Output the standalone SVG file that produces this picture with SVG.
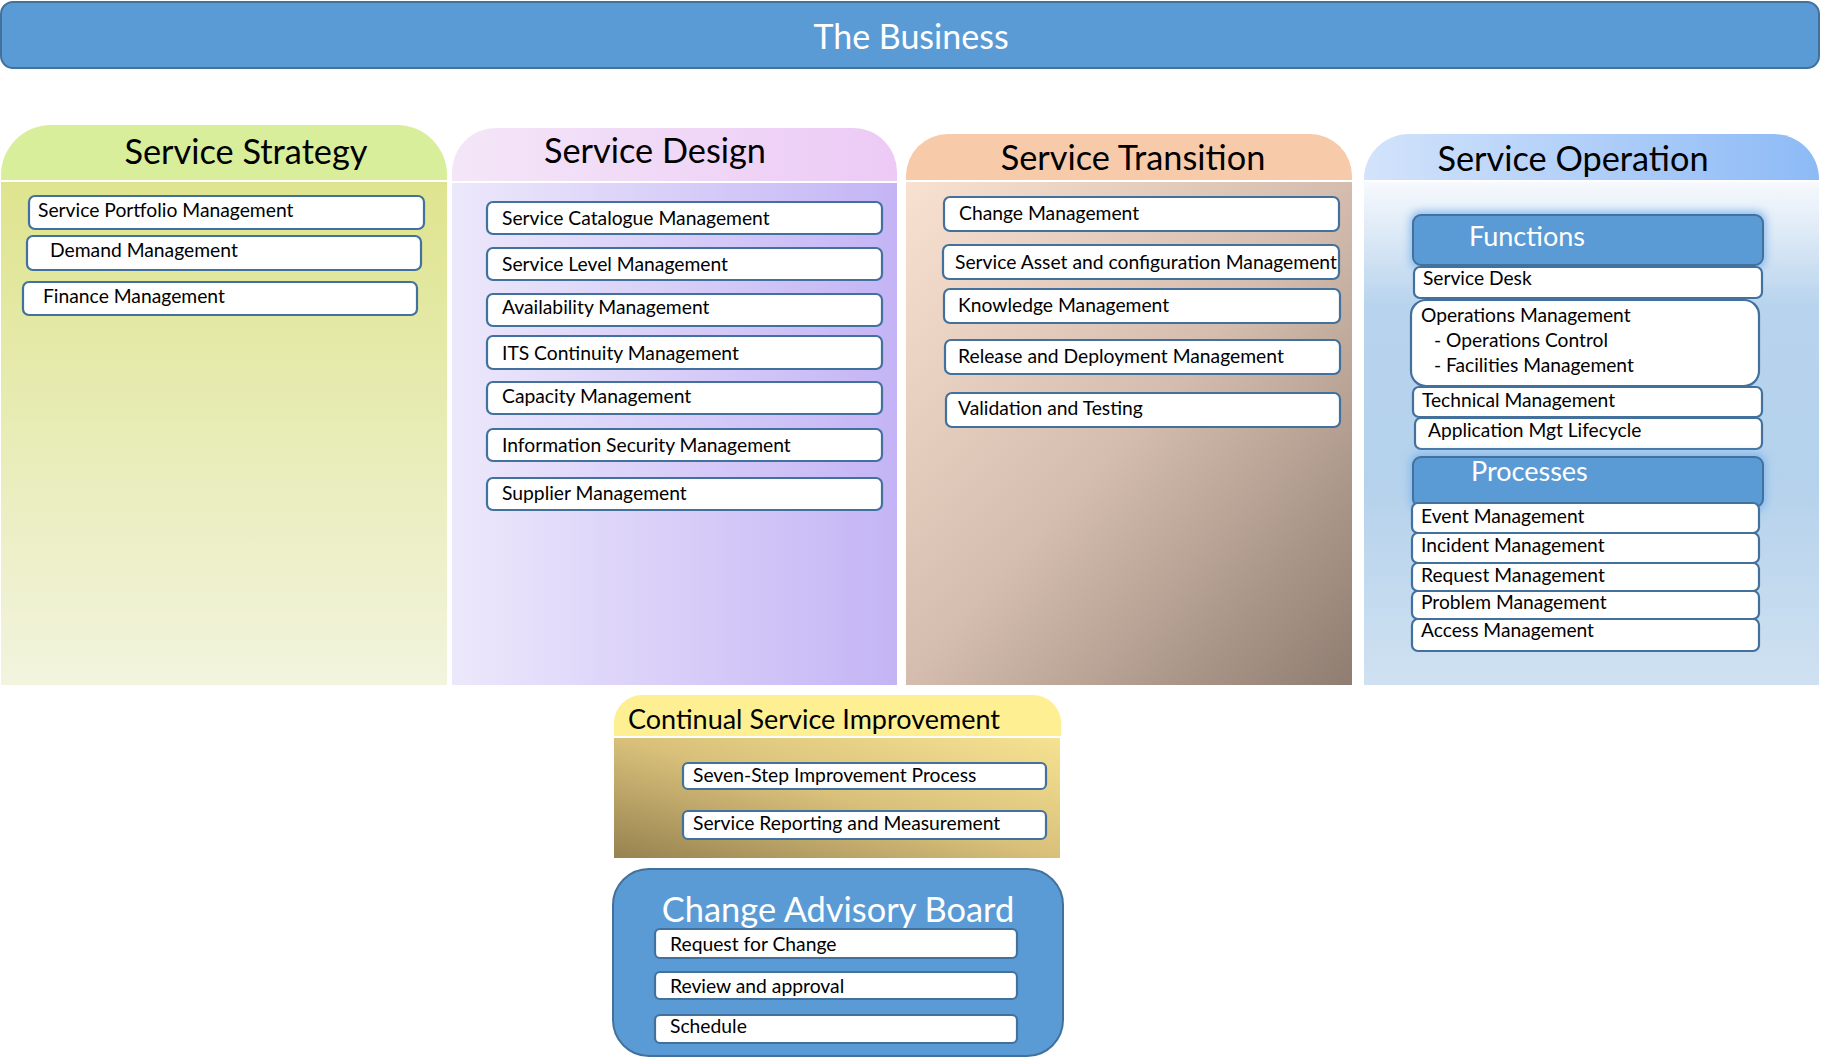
<svg xmlns="http://www.w3.org/2000/svg" width="1821" height="1057" viewBox="0 0 1821 1057">
  <style>
    text { font-family: Lato, "Liberation Sans", sans-serif; }
    .item { fill: #ffffff; stroke: #41719c; stroke-width: 2.2; }
    .itxt { font-size: 19.3px; fill: #000000; }
    .otxt { font-size: 19.2px; fill: #000000; }
    .ttl { font-size: 34.3px; fill: #000000; text-anchor: middle; }
    .blue { fill: #5b9bd5; stroke: #41719c; stroke-width: 2; }
    .wtxt { fill: #ffffff; }
  </style>
  <defs>
    <linearGradient id="gStratBody" x1="0" y1="0" x2="0" y2="1">
      <stop offset="0" stop-color="#dee48e"/>
      <stop offset="1" stop-color="#f2f4de"/>
    </linearGradient>
    <linearGradient id="gDesignHead" x1="0" y1="0" x2="1" y2="0">
      <stop offset="0" stop-color="#f4e6f8"/>
      <stop offset="1" stop-color="#eccaf5"/>
    </linearGradient>
    <linearGradient id="gDesignBody" x1="0" y1="0" x2="1" y2="0">
      <stop offset="0" stop-color="#ece8fb"/>
      <stop offset="1" stop-color="#c4b4f5"/>
    </linearGradient>
    <linearGradient id="gTransBody" x1="0" y1="0" x2="1" y2="1">
      <stop offset="0" stop-color="#f9e1d1"/>
      <stop offset="0.5" stop-color="#d4bdae"/>
      <stop offset="1" stop-color="#8f7d71"/>
    </linearGradient>
    <linearGradient id="gOpHead" x1="0" y1="0" x2="1" y2="0">
      <stop offset="0" stop-color="#d3e3fb"/>
      <stop offset="1" stop-color="#8dbaf6"/>
    </linearGradient>
    <linearGradient id="gOpBody" x1="0" y1="0" x2="0" y2="1">
      <stop offset="0" stop-color="#f7f9fd"/>
      <stop offset="0.25" stop-color="#b7d3ed"/>
      <stop offset="0.6" stop-color="#b5d2ec"/>
      <stop offset="1" stop-color="#cfe1f1"/>
    </linearGradient>
    <linearGradient id="gCsiBody" x1="0" y1="1" x2="1" y2="0">
      <stop offset="0" stop-color="#978250"/>
      <stop offset="0.5" stop-color="#d8c07a"/>
      <stop offset="1" stop-color="#f6e292"/>
    </linearGradient>
    <filter id="glow" x="-10%" y="-40%" width="120%" height="180%">
      <feGaussianBlur stdDeviation="5"/>
    </filter>
  </defs>

  <!-- top banner -->
  <g id="the-business">
    <rect class="blue" x="1" y="2" width="1818" height="66" rx="12"/>
    <text class="wtxt" x="911" y="49" font-size="34" text-anchor="middle">The Business</text>
  </g>

  <!-- Service Strategy column -->
  <g id="service-strategy">
    <path d="M1,180 V175 A50,50 0 0 1 51,125 H397 A50,50 0 0 1 447,175 V180 Z" fill="#d8ee9a"/>
    <rect x="1" y="182" width="446" height="503" fill="url(#gStratBody)"/>
    <text class="ttl" x="246" y="164">Service Strategy</text>
    <rect class="item" x="29" y="196" width="395" height="33" rx="6"/>
    <text class="itxt" x="38" y="217">Service Portfolio Management</text>
    <rect class="item" x="27" y="236" width="394" height="34" rx="6"/>
    <text class="itxt" x="50" y="257">Demand Management</text>
    <rect class="item" x="23" y="282" width="394" height="33" rx="6"/>
    <text class="itxt" x="43" y="303">Finance Management</text>
  </g>

  <!-- Service Design column -->
  <g id="service-design">
    <path d="M452,181 V172 A44,44 0 0 1 496,128 H853 A44,44 0 0 1 897,172 V181 Z" fill="url(#gDesignHead)"/>
    <rect x="452" y="183" width="445" height="502" fill="url(#gDesignBody)"/>
    <text class="ttl" x="655" y="163">Service Design</text>
    <rect class="item" x="487" y="202" width="395" height="32" rx="6"/>
    <text class="itxt" x="502" y="225">Service Catalogue Management</text>
    <rect class="item" x="487" y="248" width="395" height="32" rx="6"/>
    <text class="itxt" x="502" y="271">Service Level Management</text>
    <rect class="item" x="487" y="294" width="395" height="32" rx="6"/>
    <text class="itxt" x="502" y="314">Availability Management</text>
    <rect class="item" x="487" y="336" width="395" height="33" rx="6"/>
    <text class="itxt" x="502" y="360">ITS Continuity Management</text>
    <rect class="item" x="487" y="382" width="395" height="32" rx="6"/>
    <text class="itxt" x="502" y="403">Capacity Management</text>
    <rect class="item" x="487" y="429" width="395" height="32" rx="6"/>
    <text class="itxt" x="502" y="452">Information Security Management</text>
    <rect class="item" x="487" y="478" width="395" height="32" rx="6"/>
    <text class="itxt" x="502" y="500">Supplier Management</text>
  </g>

  <!-- Service Transition column -->
  <g id="service-transition">
    <path d="M906,180 V176 A42,42 0 0 1 948,134 H1310 A42,42 0 0 1 1352,176 V180 Z" fill="#f7caa9"/>
    <rect x="906" y="182" width="446" height="503" fill="url(#gTransBody)"/>
    <text class="ttl" x="1133" y="170" font-size="35">Service Transition</text>
    <rect class="item" x="944" y="197" width="395" height="34" rx="6"/>
    <text class="itxt" x="959" y="220">Change Management</text>
    <rect class="item" x="943" y="245" width="396" height="34" rx="6"/>
    <text class="itxt" x="955" y="269">Service Asset and configuration Management</text>
    <rect class="item" x="944" y="289" width="396" height="34" rx="6"/>
    <text class="itxt" x="958" y="312">Knowledge Management</text>
    <rect class="item" x="945" y="340" width="395" height="34" rx="6"/>
    <text class="itxt" x="958" y="363">Release and Deployment Management</text>
    <rect class="item" x="946" y="393" width="394" height="34" rx="6"/>
    <text class="itxt" x="958" y="415">Validation and Testing</text>
  </g>

  <!-- Service Operation column -->
  <g id="service-operation">
    <path d="M1364,180 V179 A45,45 0 0 1 1409,134 H1774 A45,45 0 0 1 1819,179 V180 Z" fill="url(#gOpHead)"/>
    <rect x="1364" y="182" width="455" height="503" fill="url(#gOpBody)"/>
    <text class="ttl" x="1573" y="171" font-size="35">Service Operation</text>

    <g id="functions">
      <rect x="1411" y="212" width="354" height="56" rx="8" fill="#7db4ee" filter="url(#glow)"/>
      <rect class="blue" x="1413" y="215" width="350" height="50" rx="8"/>
      <text class="wtxt" x="1469" y="246" font-size="27">Functions</text>
    </g>
    <rect class="item" x="1414" y="267" width="348" height="31" rx="6"/>
    <text class="otxt" x="1423" y="285">Service Desk</text>
    <rect class="item" x="1411" y="300" width="348" height="86" rx="15"/>
    <text class="otxt" x="1421" y="322">Operations Management</text>
    <text class="otxt" x="1434" y="347">- Operations Control</text>
    <text class="otxt" x="1434" y="372">- Facilities Management</text>
    <rect class="item" x="1413" y="387" width="349" height="30" rx="6"/>
    <text class="otxt" x="1422" y="407">Technical Management</text>
    <rect class="item" x="1415" y="418" width="347" height="31" rx="6"/>
    <text class="otxt" x="1428" y="437">Application Mgt Lifecycle</text>

    <g id="processes">
      <rect x="1411" y="454" width="354" height="56" rx="8" fill="#7db4ee" filter="url(#glow)"/>
      <rect class="blue" x="1413" y="457" width="350" height="50" rx="8"/>
      <text class="wtxt" x="1471" y="481" font-size="27">Processes</text>
    </g>
    <rect class="item" x="1412" y="503" width="347" height="30" rx="6"/>
    <text class="otxt" x="1421" y="523">Event Management</text>
    <rect class="item" x="1412" y="533" width="347" height="30" rx="6"/>
    <text class="otxt" x="1421" y="552">Incident Management</text>
    <rect class="item" x="1412" y="563" width="347" height="28" rx="6"/>
    <text class="otxt" x="1421" y="582">Request Management</text>
    <rect class="item" x="1412" y="591" width="347" height="28" rx="6"/>
    <text class="otxt" x="1421" y="609">Problem Management</text>
    <rect class="item" x="1412" y="619" width="347" height="32" rx="6"/>
    <text class="otxt" x="1421" y="637">Access Management</text>
  </g>

  <!-- Continual Service Improvement -->
  <g id="continual-service-improvement">
    <path d="M614,736 V723 A28,28 0 0 1 642,695 H1033 A28,28 0 0 1 1061,723 V736 Z" fill="#fef092"/>
    <rect x="614" y="738" width="446" height="120" fill="url(#gCsiBody)"/>
    <text x="628" y="729" font-size="27" fill="#000000">Continual Service Improvement</text>
    <rect class="item" x="683" y="763" width="363" height="26" rx="5"/>
    <text class="itxt" x="693" y="782">Seven-Step Improvement Process</text>
    <rect class="item" x="683" y="811" width="363" height="28" rx="5"/>
    <text class="itxt" x="693" y="830">Service Reporting and Measurement</text>
  </g>

  <!-- Change Advisory Board -->
  <g id="change-advisory-board">
    <rect class="blue" x="613" y="869" width="450" height="187" rx="36"/>
    <text class="wtxt" x="838" y="922" font-size="34.4" text-anchor="middle">Change Advisory Board</text>
    <rect class="item" x="655" y="929" width="362" height="29" rx="5"/>
    <text class="itxt" x="670" y="951">Request for Change</text>
    <rect class="item" x="655" y="972" width="362" height="27" rx="5"/>
    <text class="itxt" x="670" y="993">Review and approval</text>
    <rect class="item" x="655" y="1015" width="362" height="28" rx="5"/>
    <text class="itxt" x="670" y="1033">Schedule</text>
  </g>

  <!-- no connectors in this diagram -->
  <g id="connectors"/>
</svg>
